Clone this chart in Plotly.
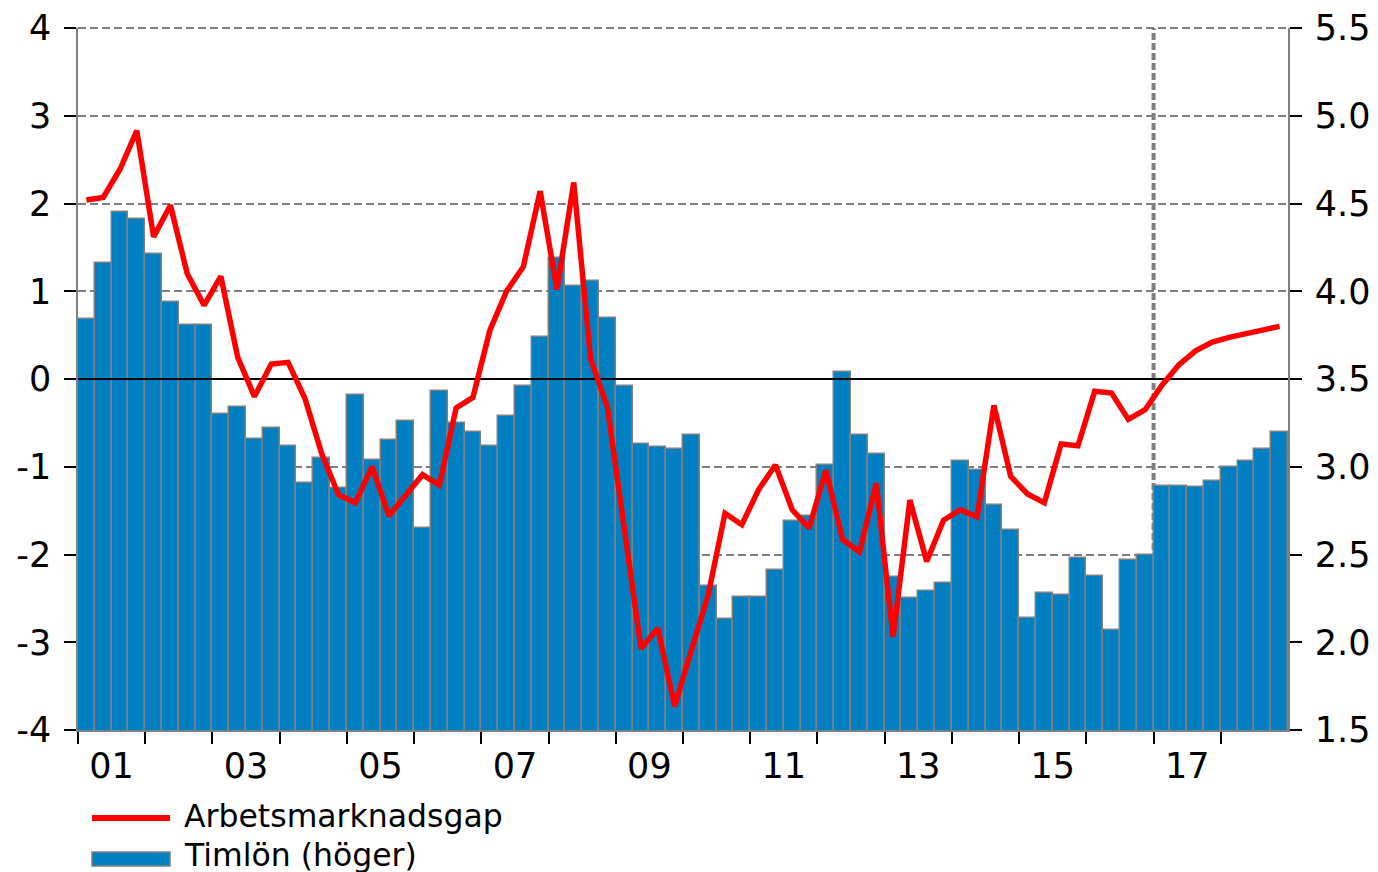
import plotly.graph_objects as go

# ---------------- data ----------------
years = list(range(2001, 2019))
quarters = [f"{y}K{q}" for y in years for q in range(1, 5)]

# Timlön (höger axel), procent
timlon = [3.84, 4.16, 4.45, 4.41, 4.21, 3.94, 3.81, 3.81,
          3.30, 3.34, 3.16, 3.22, 3.12, 2.91, 3.05, 2.88,
          3.41, 3.04, 3.15, 3.26, 2.65, 3.43, 3.25, 3.20,
          3.12, 3.29, 3.46, 3.74, 4.19, 4.03, 4.06, 3.85,
          3.46, 3.13, 3.11, 3.10, 3.18, 2.32, 2.13, 2.26,
          2.26, 2.41, 2.69, 2.72, 3.01, 3.54, 3.18, 3.07,
          2.37, 2.25, 2.29, 2.34, 3.03, 2.98, 2.78, 2.64,
          2.14, 2.28, 2.27, 2.48, 2.38, 2.07, 2.47, 2.50,
          2.89, 2.89, 2.885, 2.92, 3.00, 3.035, 3.10, 3.20]

# Arbetsmarknadsgap (vänster axel)
gap = [2.04, 2.07, 2.39, 2.83, 1.62, 1.98, 1.20, 0.84,
       1.17, 0.25, -0.20, 0.17, 0.19, -0.22, -0.85, -1.32,
       -1.41, -1.00, -1.56, -1.32, -1.09, -1.21, -0.33, -0.21,
       0.55, 1.00, 1.28, 2.14, 1.02, 2.24, 0.23, -0.32,
       -1.72, -3.07, -2.84, -3.73, -3.09, -2.46, -1.53, -1.66,
       -1.26, -0.98, -1.49, -1.70, -1.04, -1.83, -1.97, -1.19,
       -2.94, -1.38, -2.08, -1.61, -1.49, -1.57, -0.30, -1.11,
       -1.31, -1.41, -0.74, -0.76, -0.14, -0.16, -0.46, -0.35,
       -0.07, 0.16, 0.32, 0.42, 0.475, 0.52, 0.57, 0.60]

tick_years = list(range(2001, 2019, 2))
tick_labels = [f"{y % 100:02d}" for y in tick_years]
left_ticks = [-4, -3, -2, -1, 0, 1, 2, 3, 4]
left_labels = [str(v) for v in left_ticks]
right_ticks = [1.5, 2.0, 2.5, 3.0, 3.5, 4.0, 4.5, 5.0, 5.5]
right_labels = [f"{v:.1f}" for v in right_ticks]
forecast_start = 2017

# ---------------- styling ----------------
FONT = "Verdana, DejaVu Sans, sans-serif"
BLUE = "#0080C2"
RED = "#FF0000"
GREY = "#808080"
TICK_SIZE = 35
LEG_SIZE = 31.5

x = [int(q[:4]) + (int(q[-1]) - 0.5) / 4 for q in quarters]
x_range = [years[0], years[-1] + 1]

fig = go.Figure()
# bars on the primary (right-side) axis
fig.add_trace(go.Bar(
    x=x, y=timlon, yaxis="y", name="Timlön (höger)",
    marker=dict(color=BLUE, line=dict(color=GREY, width=1.5)),
    width=0.25, showlegend=False,
))
# zero line and gap line on the overlaying (left-side) axis -> drawn above bars
fig.add_trace(go.Scatter(
    x=x_range, y=[0, 0], yaxis="y2", mode="lines", line=dict(color="black", width=2),
    showlegend=False, hoverinfo="skip",
))
fig.add_trace(go.Scatter(
    x=x, y=gap, yaxis="y2", mode="lines", name="Arbetsmarknadsgap",
    line=dict(color=RED, width=5.5), showlegend=False,
))

# forecast divider
fig.add_shape(type="line", xref="x", yref="paper", x0=forecast_start, x1=forecast_start,
              y0=0, y1=1, line=dict(color=GREY, width=4, dash="7px,3px"), layer="below")
# top dashed border gridline (value 4)
fig.add_shape(type="line", xref="paper", yref="paper", x0=0, x1=1, y0=1, y1=1,
              line=dict(color=GREY, width=2, dash="8px,4px"), layer="below")

# ---------- manual legend ----------
L, T, W, H = 78, 28, 1210, 702
def px(xp):
    return (xp - L) / W
def py(yp):
    return (T + H - yp) / H

fig.add_shape(type="line", xref="paper", yref="paper", x0=px(92), x1=px(170),
              y0=py(818), y1=py(818), line=dict(color=RED, width=6))
fig.add_shape(type="rect", xref="paper", yref="paper", x0=px(92), x1=px(170),
              y0=py(866), y1=py(852), fillcolor=BLUE, line=dict(color=GREY, width=1.5))
fig.add_annotation(xref="paper", yref="paper", x=px(182), y=py(816), xanchor="left",
                   yanchor="middle", text="Arbetsmarknadsgap", showarrow=False,
                   font=dict(family=FONT, size=LEG_SIZE, color="black"))
fig.add_annotation(xref="paper", yref="paper", x=px(182), y=py(855), xanchor="left",
                   yanchor="middle", text="Timlön (höger)", showarrow=False,
                   font=dict(family=FONT, size=LEG_SIZE, color="black"))

fig.update_layout(
    width=1378, height=872,
    margin=dict(l=78, r=90, t=28, b=142, autoexpand=False),
    paper_bgcolor="white", plot_bgcolor="white",
    bargap=0,
    font=dict(family=FONT, color="black", size=TICK_SIZE),
    xaxis=dict(
        range=x_range, automargin=False,
        tickmode="array", tickvals=[y + 0.5 for y in tick_years], ticktext=tick_labels,
        ticks="outside", ticklen=4, tickcolor="rgba(0,0,0,0)",
        minor=dict(tickmode="array", tickvals=list(range(x_range[0], x_range[1])),
                   ticks="outside", ticklen=12, tickwidth=1.5, tickcolor="black",
                   showgrid=False),
        showline=True, linecolor=GREY, linewidth=1.5,
        showgrid=False, zeroline=False,
        tickfont=dict(size=TICK_SIZE),
    ),
    yaxis=dict(
        range=[1.5, 5.5], side="right", automargin=False,
        tickmode="array", tickvals=right_ticks, ticktext=right_labels,
        ticks="outside", ticklen=12, tickwidth=1.5, tickcolor="black",
        ticklabelstandoff=6,
        showline=True, linecolor=GREY, linewidth=1.5,
        showgrid=False, zeroline=False, tickfont=dict(size=TICK_SIZE),
    ),
    yaxis2=dict(
        range=[-4, 4], overlaying="y", side="left", automargin=False,
        tickmode="array", tickvals=left_ticks, ticktext=left_labels,
        ticks="outside", ticklen=12, tickwidth=1.5, tickcolor="black",
        ticklabelstandoff=6,
        showline=True, linecolor=GREY, linewidth=1.5,
        showgrid=True, gridcolor=GREY, griddash="8px,4px", gridwidth=2,
        zeroline=False, tickfont=dict(size=TICK_SIZE),
    ),
)

fig.write_html(
    "out.html",
    config={"displayModeBar": False},
    post_script="document.body.style.margin='0';document.body.style.overflow='hidden';",
)
